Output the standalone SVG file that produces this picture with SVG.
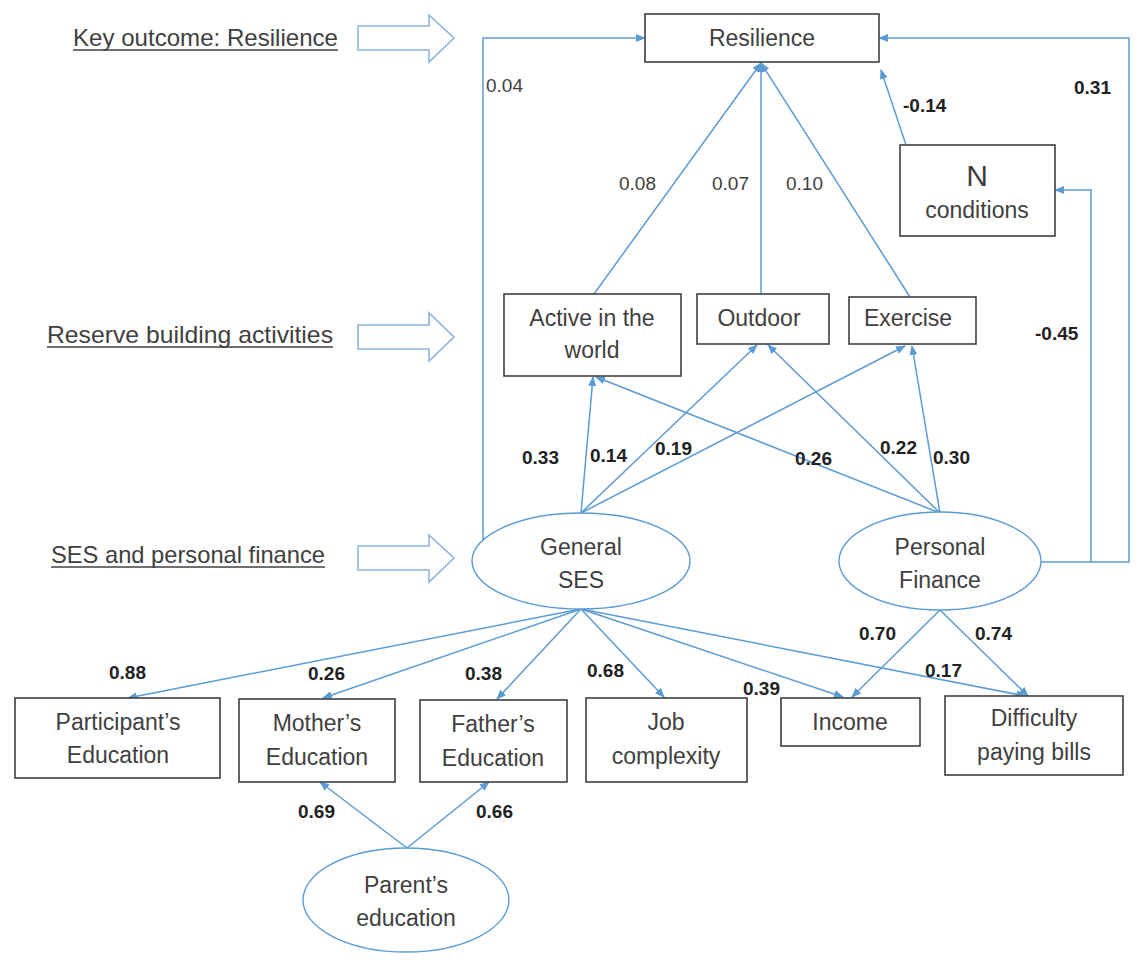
<svg xmlns="http://www.w3.org/2000/svg" width="1142" height="964" viewBox="0 0 1142 964">
<style>
.box{fill:#fff;stroke:#404040;stroke-width:1.6}
.ell{fill:#fff;stroke:#5B9BD5;stroke-width:1.4}
.blk{fill:#fff;stroke:#8DB3E2;stroke-width:1.6}
.t{font-family:"Liberation Sans",Arial,sans-serif;font-size:23px;fill:#404040;text-anchor:middle}
.lt{font-family:"Liberation Sans",Arial,sans-serif;font-size:24px;fill:#404040}
.ul{stroke:#404040;stroke-width:1.6}
.lb{font-family:"Liberation Sans",Arial,sans-serif;font-size:19px;font-weight:bold;fill:#222}
.lr{font-family:"Liberation Sans",Arial,sans-serif;font-size:19px;fill:#404040}
.c{fill:none;stroke:#5B9BD5;stroke-width:1.5;marker-end:url(#ah)}
</style>
<defs>
<marker id="ah" markerUnits="userSpaceOnUse" markerWidth="10" markerHeight="10" viewBox="0 0 10 10" refX="9" refY="5" orient="auto">
<path d="M0,1 L10,5 L0,9 Z" fill="#5B9BD5"/>
</marker>
</defs>

<g id="legend">
<text class="lt" x="73" y="46" textLength="265" lengthAdjust="spacingAndGlyphs">Key outcome: Resilience</text>
<line class="ul" x1="73" y1="50" x2="338" y2="50"/>
<path class="blk" d="M358,26 H429 V15 L454,38 L429,62 V50 H358 Z"/>
<text class="lt" x="47" y="343" textLength="286" lengthAdjust="spacingAndGlyphs">Reserve building activities</text>
<line class="ul" x1="47" y1="347" x2="333" y2="347"/>
<path class="blk" d="M358,325 H429 V313 L454,337 L429,361 V349 H358 Z"/>
<text class="lt" x="51" y="563" textLength="274" lengthAdjust="spacingAndGlyphs">SES and personal finance</text>
<line class="ul" x1="51" y1="567" x2="325" y2="567"/>
<path class="blk" d="M358,546 H429 V535 L454,558 L429,582 V570 H358 Z"/>
</g>

<g id="connectors">
<path class="c" d="M483,540 V38 H645"/>
<path class="c" d="M1041,562 H1129 V38 H879"/>
<path class="c" d="M1091,562 V190 H1055"/>
<path class="c" d="M906,145 L881,70"/>
<path class="c" d="M594,294 L761,63"/>
<path class="c" d="M761,294 L761,63"/>
<path class="c" d="M910,297 L761,63"/>
<path class="c" d="M581,513 L593,377"/>
<path class="c" d="M581,513 L757,345"/>
<path class="c" d="M581,513 L905,346"/>
<path class="c" d="M940,513 L596,377"/>
<path class="c" d="M940,513 L768,345"/>
<path class="c" d="M940,513 L912,346"/>
<path class="c" d="M581,609 L128,698"/>
<path class="c" d="M581,609 L323,698"/>
<path class="c" d="M581,609 L497,699"/>
<path class="c" d="M581,609 L664,697"/>
<path class="c" d="M581,609 L843,697"/>
<path class="c" d="M581,609 L1025,696"/>
<path class="c" d="M940,610 L852,697"/>
<path class="c" d="M940,610 L1028,696"/>
<path class="c" d="M407,848 L320,782"/>
<path class="c" d="M407,848 L489,782"/>
</g>

<g id="labels">
<text class="lr" x="486" y="92">0.04</text>
<text class="lr" x="619" y="190">0.08</text>
<text class="lr" x="712" y="190">0.07</text>
<text class="lr" x="786" y="190">0.10</text>
<text class="lb" x="1074" y="94">0.31</text>
<text class="lb" x="903" y="112">-0.14</text>
<text class="lb" x="1035" y="340">-0.45</text>
<text class="lb" x="522" y="464">0.33</text>
<text class="lb" x="590" y="462">0.14</text>
<text class="lb" x="655" y="455">0.19</text>
<text class="lb" x="795" y="465">0.26</text>
<text class="lb" x="880" y="454">0.22</text>
<text class="lb" x="933" y="464">0.30</text>
<text class="lb" x="109" y="679">0.88</text>
<text class="lb" x="308" y="680">0.26</text>
<text class="lb" x="465" y="680">0.38</text>
<text class="lb" x="587" y="677">0.68</text>
<text class="lb" x="743" y="695">0.39</text>
<text class="lb" x="859" y="640">0.70</text>
<text class="lb" x="975" y="640">0.74</text>
<text class="lb" x="925" y="677">0.17</text>
<text class="lb" x="298" y="818">0.69</text>
<text class="lb" x="476" y="818">0.66</text>
</g>

<g id="resilience">
<rect class="box" x="645" y="14" width="234" height="48"/>
<text class="t" x="762" y="46">Resilience</text>
</g>
<g id="n-conditions">
<rect class="box" x="900" y="145" width="155" height="91"/>
<text class="t" x="977" y="186" style="font-size:30px">N</text>
<text class="t" x="977" y="218">conditions</text>
</g>
<g id="active">
<rect class="box" x="504" y="294" width="177" height="82"/>
<text class="t" x="592" y="326">Active in the</text>
<text class="t" x="592" y="358">world</text>
</g>
<g id="outdoor">
<rect class="box" x="697" y="294" width="132" height="50"/>
<text class="t" x="759" y="326">Outdoor</text>
</g>
<g id="exercise">
<rect class="box" x="849" y="297" width="127" height="47"/>
<text class="t" x="908" y="326">Exercise</text>
</g>
<g id="general-ses">
<ellipse class="ell" cx="581" cy="561" rx="109" ry="48"/>
<text class="t" x="581" y="555">General</text>
<text class="t" x="581" y="588">SES</text>
</g>
<g id="personal-finance">
<ellipse class="ell" cx="940" cy="561" rx="101" ry="49"/>
<text class="t" x="940" y="555">Personal</text>
<text class="t" x="940" y="588">Finance</text>
</g>
<g id="participant-education">
<rect class="box" x="15" y="698" width="205" height="80"/>
<text class="t" x="118" y="730">Participant’s</text>
<text class="t" x="118" y="763">Education</text>
</g>
<g id="mother-education">
<rect class="box" x="239" y="699" width="156" height="83"/>
<text class="t" x="317" y="731">Mother’s</text>
<text class="t" x="317" y="765">Education</text>
</g>
<g id="father-education">
<rect class="box" x="420" y="700" width="147" height="82"/>
<text class="t" x="493" y="732">Father’s</text>
<text class="t" x="493" y="766">Education</text>
</g>
<g id="job-complexity">
<rect class="box" x="586" y="698" width="161" height="84"/>
<text class="t" x="666" y="730">Job</text>
<text class="t" x="666" y="764">complexity</text>
</g>
<g id="income">
<rect class="box" x="781" y="698" width="139" height="48"/>
<text class="t" x="850" y="730">Income</text>
</g>
<g id="difficulty">
<rect class="box" x="945" y="696" width="178" height="79"/>
<text class="t" x="1034" y="726">Difficulty</text>
<text class="t" x="1034" y="760">paying bills</text>
</g>
<g id="parent-education">
<ellipse class="ell" cx="406" cy="900" rx="103" ry="52"/>
<text class="t" x="406" y="893">Parent’s</text>
<text class="t" x="406" y="926">education</text>
</g>
</svg>
